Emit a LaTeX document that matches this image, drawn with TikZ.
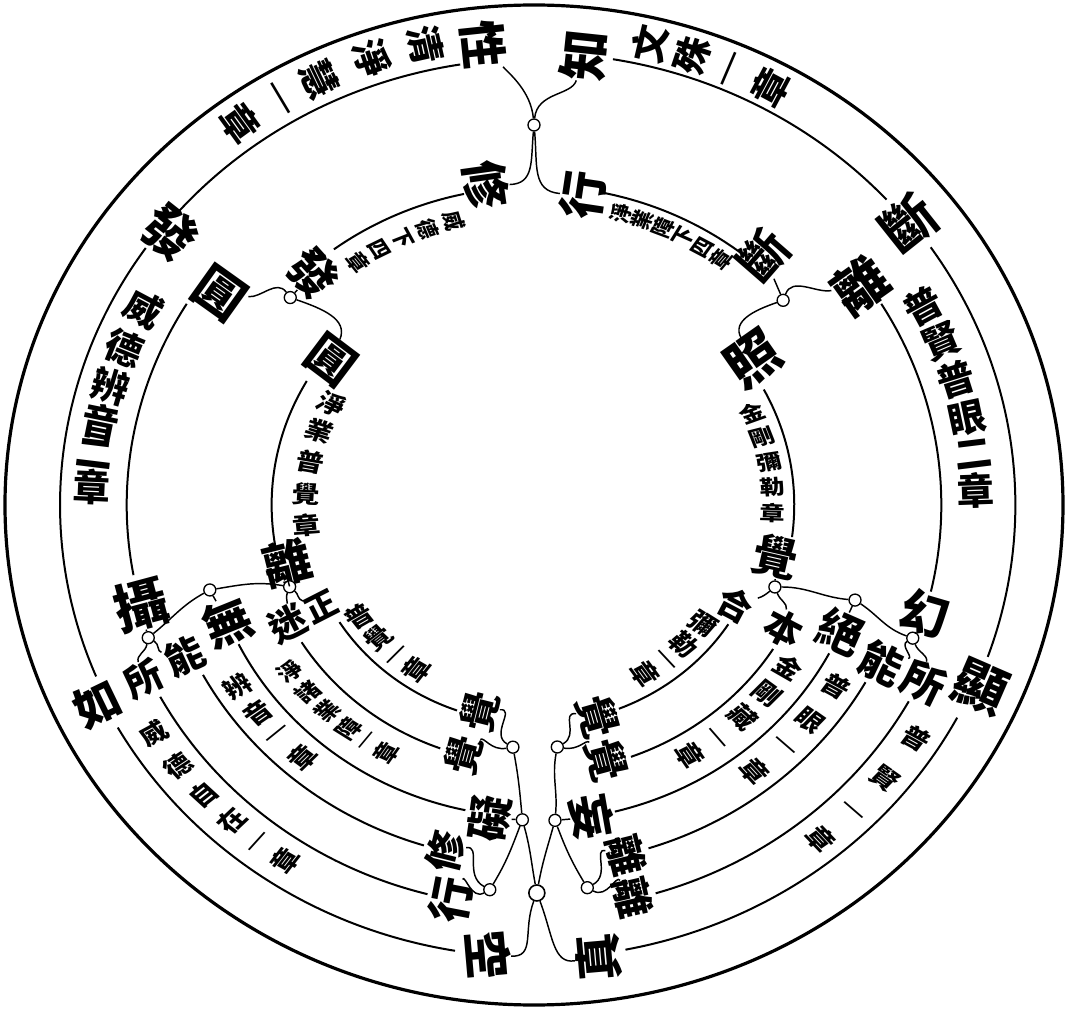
\documentclass[tikz,border=0pt]{standalone}
\usepackage{fontspec}
\usepackage{graphicx}
\newfontfamily\cjk{Noto Sans CJK TC}
\newcommand\yi{\scalebox{1}[0.45]{一}}
\begin{document}
\begin{tikzpicture}[x=0.75pt,y=0.75pt,
  chr/.style={font=\cjk\bfseries\fontsize{#1}{#1}\selectfont,inner sep=0pt},
  smc/.style={font=\cjk\bfseries\fontsize{28}{28}\selectfont,inner sep=0pt},
  lbc/.style={font=\cjk\bfseries\fontsize{21}{21}\selectfont,inner sep=0pt,yscale=0.85},
  nrc/.style={font=\cjk\bfseries\fontsize{19}{19}\selectfont,inner sep=0pt,yscale=0.8},
  tnc/.style={font=\cjk\bfseries\fontsize{17}{17}\selectfont,inner sep=0pt,yscale=0.85},
  ln/.style={line width=1.5pt},
  cv/.style={line width=1.1pt},
  dot/.style={circle,draw,fill=white,line width=1pt,inner sep=0pt,minimum size=9pt},
  bigdot/.style={dot,minimum size=12pt,line width=1.2pt}]
\useasboundingbox (-534,-505) rectangle (534,505);
\begin{scope}[xscale=1.058]
\draw[line width=2.4pt] (0,0) circle[radius=500];
% ---------- arcs ----------
\foreach \r/\a/\b in {452/80.5/42.5, 446/99/139, 455/34.5/-19.5, 448/145/202.5,
   452/209.5/260.5, 453/-28/-79, 385/31.5/-13, 385/148.5/190.5,
   318/102/126.5, 319/78/52, 248/150/189.5, 246/28/-7.5,
   218/212.5/250.5, 259/212/250, 312/206.5/258, 356/208.5/253, 402/208.5/255.5,
   219/-33/-68.5, 268/-32.5/-70, 316/-28/-76, 360/-29.5/-72.5, 405/-29/-73.5}
  \draw[ln] (\a:\r) arc[start angle=\a,end angle=\b,radius=\r];
% ---------- big characters: name/char/angle/radius/rotation/size ----------
\foreach \n/\c/\a/\r/\s/\z in {xing/性/96/463/-84/36, zhi/知/84/452/84/38,
   xiuT/修/98/323/-82/36, xingT/行/81.5/313/81.5/36, faO/發/141.6/439/-38.4/40,
   yuanO/圓/144.5/365/-35.5/38, faI/發/132/312/-48/36, yuanI/圓/143/240/-37/36,
   duanO/斷/38.5/453/38.5/40, liR/離/35.5/379/35.5/40, duanI/斷/49/331/49/36,
   zhao/照/35/253/35/40, jueR/覺/-12.8/234/-12.8/34, liL/離/194/240/14/36,
   huan/幻/-16.3/385/-16.3/36, xian/顯/-23.4/460/-23.4/40, jue/絕/-23.7/316/-23.7/34,
   she/攝/195/385/15/40, ru/如/205.8/458/25.8/34, wu/無/202/312/22/36,
   jueA/覺/256/213/76/30, jueB/覺/255/259/75/29, ai/礙/262.4/316/82/34,
   xiuB/修/256.4/356/76/30, xingB/行/258.7/403/79/34, kong/空/264.5/452/-85/36,
   jueC/覺/-74/220/-74/32, jueD/覺/-74.9/264/-75/32, wang/妄/-80/317/-80/34,
   liA/離/-76/361/-76/30, liB/離/-76.6/404/-77/30, zhen/真/-82.4/456/95/36,
   nengR/能/-25.7/365/-25.7/32, suoR/所/-25.8/409/-25.8/32, he/合/-27.8/215/-27.8/26,
   ben/本/-27.6/266/-27.6/28, suoL/所/205.3/408/25.3/28, nengL/能/204.7/363/24.7/29,
   mi/迷/207/261/27/28, zheng/正/207/225/27/24}
  \node[chr=\z,rotate=\s] (\n) at (\a:\r) {\c};
% ---------- band texts ----------
\foreach \c/\a [count=\i] in {文/76.7,殊/71.6,\yi/66.8,章/61.9}
  \node[smc,rotate=\a] (ta\i) at (\a:474) {\c};
\foreach \c/\a [count=\i] in {清/102.6,淨/108.9,慧/115.5,\yi/120.8,章/126}
  \node[smc,rotate=\a-180] (tb\i) at (\a:472) {\c};
\foreach \c/\a [count=\i] in {普/28.5,賢/23,普/17.5,眼/12,二/7,章/2}
  \node[smc,rotate=\a] (tc\i) at (\a:418) {\c};
\foreach \c/\a [count=\i] in {威/152,德/158,辨/163.5,音/168.5,二/173,章/177.5}
  \node[smc,rotate=\a-180] (td\i) at (\a:418) {\c};
\foreach \c/\a [count=\i] in {威/105,德/110,下/115,四/119.8,章/124.4}
  \node[tnc,rotate=\a-180] (te\i) at (\a:294) {\c};
\foreach \c/\a [count=\i] in {淨/74.2,業/70.2,障/66.2,下/62.2,四/58.2,章/54.2}
  \node[tnc,rotate=\a] (tf\i) at (\a:303) {\c};
\foreach \c/\a [count=\i] in {淨/152,業/160,普/168.5,覺/177,章/185.3}
  \node[lbc,rotate=\a-180] (tg\i) at (\a:216) {\c};
\foreach \c/\a [count=\i] in {金/24,剛/17.5,彌/11,勒/4.5,章/-2}
  \node[nrc,rotate=\a] (th\i) at (\a:226) {\c};
% bottom-left lobe
\foreach \c/\a [count=\i] in {普/214,覺/222,\yi/229.5,章/236}
  \node[lbc,rotate=\a-180] (ti\i) at (\a:199) {\c};
\foreach \c/\a [count=\i] in {淨/215.8,諸/221.2,業/226.6,障/232,\yi/236.2,章/240.6}
  \node[nrc,rotate=\a-180] (tj\i) at (\a:284) {\c};
\foreach \c/\a [count=\i] in {辨/213,音/218.6,\yi/223.5,章/229}
  \node[lbc,rotate=\a-180] (tk\i) at (\a:334) {\c};
\foreach \c/\a [count=\i] in {威/212.5,德/217.8,自/222.9,在/227.9,\yi/232.4,章/236.5}
  \node[lbc,rotate=\a-180] (tl\i) at (\a:426) {\c};
% bottom-right lobe
\foreach \c/\a [count=\i] in {彌/-36.5,勒/-44.5,\yi/-51.5,章/-58}
  \node[lbc,rotate=\a] (tm\i) at (\a:199) {\c};
\foreach \c/\a [count=\i] in {金/-34,剛/-40.5,藏/-47,\yi/-53.5,章/-59.5}
  \node[lbc,rotate=\a] (tn\i) at (\a:290) {\c};
\foreach \c/\a [count=\i] in {普/-32.4,眼/-39.5,\yi/-45.5,章/-52}
  \node[lbc,rotate=\a] (to\i) at (\a:338) {\c};
\foreach \c/\a [count=\i] in {普/-32.8,賢/-39.5,\yi/-45.5,章/-51}
  \node[lbc,rotate=\a] (tp\i) at (\a:430) {\c};
% ---------- junction dots ----------
\foreach \n/\a/\r in {N0/90/380, NL/138/310, NR/41/312, La/199.5/245, Lb/195.5/318,
   Lc/200/388, Ra/-19.8/242, Rb/-17.4/318, Rc/-20.4/382, BLa/265.3/243, BRa/-84.8/243,
   UL/268/315, UR/-86.4/316, NdL/263.8/387, NdR/-82.5/386}
  \node[dot] (\n) at (\a:\r) {};
\node[bigdot] (Big) at (-89.6:388) {};
% ---------- connectors ----------
\draw[cv] (N0) to[out=95,in=-10] (xing);
\draw[cv] (N0) to[out=85,in=210] (zhi);
\draw[cv] (N0) to[out=265,in=45] (xiuT);
\draw[cv] (N0) to[out=275,in=135] (xingT);
\draw[cv] (NL) -- (faI);
\draw[cv] (NL) to[out=125,in=15] (yuanO);
\draw[cv] (NL) to[out=-20,in=85] (yuanI);
\draw[cv] (NR) -- (duanI);
\draw[cv] (NR) to[out=70,in=170] (liR);
\draw[cv] (NR) to[out=200,in=100] (zhao);
\draw[cv] (La) -- (liL);
\draw[cv] (La) to[out=-40,in=140] (zheng);
\draw[cv] (La) to[out=250,in=70] (mi);
\draw[cv] (La) to[out=170,in=10] (Lb);
\draw[cv] (Lb) -- (wu);
\draw[cv] (Lb) to[out=210,in=40] (Lc);
\draw[cv] (Lc) -- (she);
\draw[cv] (Lc) to[out=-30,in=150] (nengL);
\draw[cv] (Lc) to[out=260,in=90] (suoL);
\draw[cv] (Ra) -- (jueR);
\draw[cv] (Ra) to[out=220,in=40] (he);
\draw[cv] (Ra) to[out=-70,in=100] (ben);
\draw[cv] (Ra) to[out=0,in=175] (Rb);
\draw[cv] (Rb) -- (jue);
\draw[cv] (Rb) to[out=-35,in=160] (Rc);
\draw[cv] (Rc) -- (huan);
\draw[cv] (Rc) to[out=210,in=30] (nengR);
\draw[cv] (Rc) to[out=-70,in=100] (suoR);
\draw[cv] (BLa) to[out=150,in=-40] (jueA);
\draw[cv] (BLa) to[out=190,in=0] (jueB);
\draw[cv] (BLa) to[out=-80,in=95] (UL);
\draw[cv] (BRa) to[out=30,in=220] (jueC);
\draw[cv] (BRa) to[out=-10,in=180] (jueD);
\draw[cv] (BRa) to[out=-100,in=85] (UR);
\draw[cv] (UL) -- (ai);
\draw[cv] (UL) to[out=250,in=60] (NdL);
\draw[cv] (UL) to[out=-75,in=100] (Big);
\draw[cv] (UR) -- (wang);
\draw[cv] (UR) to[out=-70,in=120] (NdR);
\draw[cv] (UR) to[out=255,in=80] (Big);
\draw[cv] (NdL) to[out=150,in=-30] (xiuB);
\draw[cv] (NdL) to[out=210,in=10] (xingB);
\draw[cv] (NdR) to[out=30,in=210] (liA);
\draw[cv] (NdR) to[out=-30,in=170] (liB);
\draw[cv] (Big) to[out=250,in=40] (kong);
\draw[cv] (Big) to[out=-70,in=150] (zhen);
\end{scope}
\end{tikzpicture}
\end{document}
